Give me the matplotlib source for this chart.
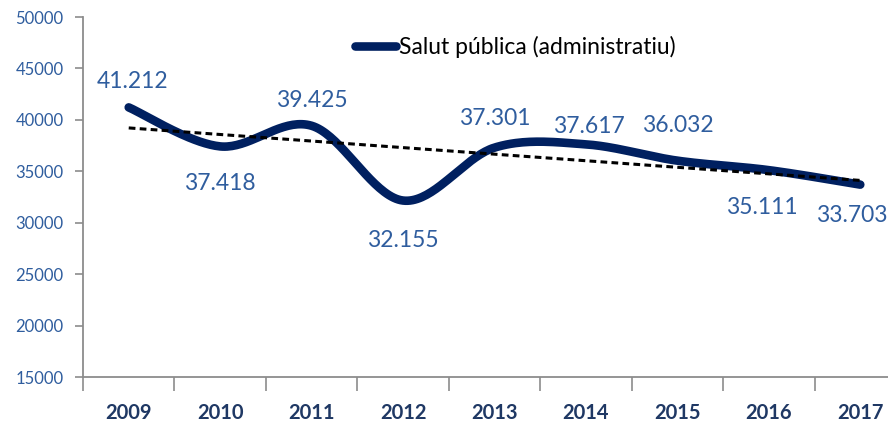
import numpy as np
import matplotlib
matplotlib.use("Agg")
import matplotlib.pyplot as plt
from matplotlib.lines import Line2D

years = ["2009", "2010", "2011", "2012", "2013", "2014", "2015", "2016", "2017"]
values = [41212, 37418, 39425, 32155, 37301, 37617, 36032, 35111, 33703]
value_labels = ["41.212", "37.418", "39.425", "32.155", "37.301", "37.617", "36.032", "35.111", "33.703"]
series_name = "Salut pública (administratiu)"

# label offsets (points) relative to each data point
label_offsets = [(3, 19), (0, -27), (0, 18), (0, -29), (0, 21), (2, 13), (0, 25), (-5, -27), (-6, -22)]

LINE = "#002060"
LABEL = "#2F5D9E"
AXIS = "#8C8C8C"
FONT = ["Lato", "DejaVu Sans"]

x = np.arange(len(years), dtype=float)
y = np.array(values, dtype=float)


def smooth_curve(px, py, n=40):
    """Cubic Bezier smoothing through all points (Catmull-Rom style)."""
    P = np.column_stack([px, py])
    P = np.vstack([P[0], P, P[-1]])
    out = []
    for i in range(1, len(P) - 2):
        p0, p1, p2, p3 = P[i - 1], P[i], P[i + 1], P[i + 2]
        c1 = p1 + (p2 - p0) / 6.0
        c2 = p2 - (p3 - p1) / 6.0
        t = np.linspace(0, 1, n)[:, None]
        seg = ((1 - t) ** 3) * p1 + 3 * ((1 - t) ** 2) * t * c1 + 3 * (1 - t) * t ** 2 * c2 + t ** 3 * p2
        out.append(seg if i == 1 else seg[1:])
    s = np.vstack(out)
    return s[:, 0], s[:, 1]


fig = plt.figure(figsize=(8.88, 4.29), dpi=100)
# axes extends slightly past the right edge of the canvas
ax = fig.add_axes([83 / 888, 1 - 377 / 429, (906 - 83) / 888, (377 - 17) / 429])

sx, sy = smooth_curve(x, y)
ax.plot(sx, sy, color=LINE, lw=6.2, solid_capstyle="round", zorder=3)

# linear trend
k, b = np.polyfit(x, y, 1)
ax.plot(x, k * x + b, color="black", lw=2.2, ls=(0, (2.2, 1.4)), zorder=4)

for xi, yi, lab, off in zip(x, y, value_labels, label_offsets):
    ax.annotate(lab, (xi, yi), xytext=off, textcoords="offset points",
                ha="center", va="center", fontsize=16.5, color=LABEL, family=FONT)

ax.set_xlim(-0.5, len(years) - 0.5)
ax.set_ylim(15000, 50000)
ax.set_yticks(np.arange(15000, 50001, 5000))
ax.set_yticklabels([str(v) for v in range(15000, 50001, 5000)], family=FONT,
                   fontsize=12, color=LABEL)
ax.set_xticks(x)
ax.set_xticklabels(years, family=FONT, fontsize=14.5, fontweight="bold", color="#1F3864")
ax.set_xticks(np.arange(-0.5, len(years), 1.0), minor=True)

ax.tick_params(axis="x", which="major", length=0, pad=19)
ax.tick_params(axis="x", which="minor", length=10, color=AXIS, width=1.2, direction="out")
ax.tick_params(axis="y", length=6, color=AXIS, width=1.2, pad=8)

for side in ("top", "right"):
    ax.spines[side].set_visible(False)
for side in ("left", "bottom"):
    ax.spines[side].set_color(AXIS)
    ax.spines[side].set_linewidth(1.3)

handle = Line2D([0], [0], color=LINE, lw=6.2, solid_capstyle="round")
leg = fig.legend([handle], [series_name], loc="center left",
                 bbox_to_anchor=(334 / 888, 1 - 47 / 429), frameon=False,
                 handlelength=1.8, handletextpad=0.15,
                 prop={"family": FONT, "size": 16.5})
for t in leg.get_texts():
    t.set_color("black")

fig.savefig("out.png", dpi=100)
